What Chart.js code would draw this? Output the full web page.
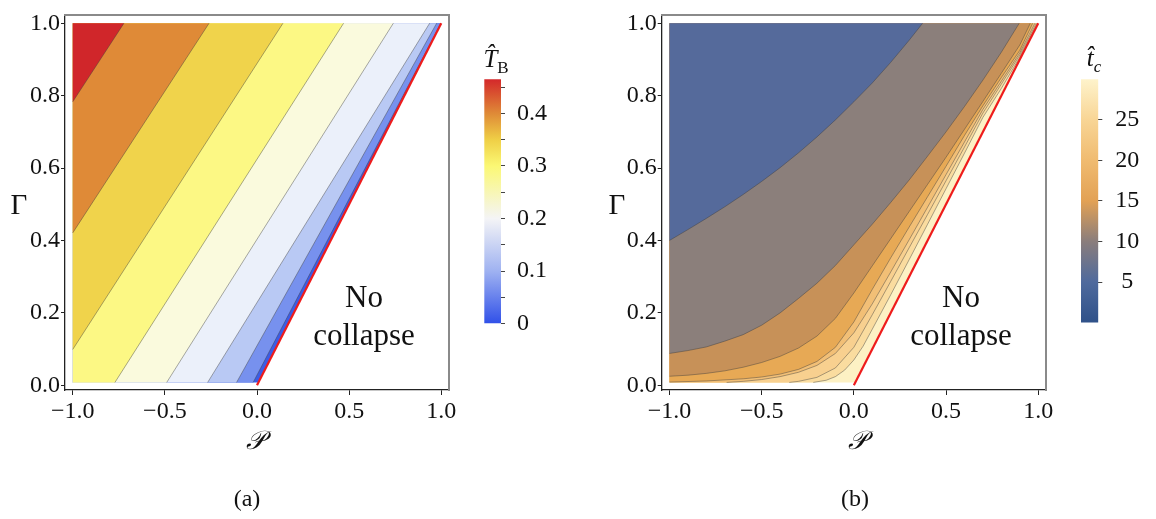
<!DOCTYPE html>
<html><head><meta charset="utf-8">
<script src="https://cdn.jsdelivr.net/npm/chart.js@4.4.1/dist/chart.umd.min.js"></script>
<style>
body{margin:0;width:1156px;height:519px;background:#fff;position:relative;overflow:hidden;}
canvas{position:absolute;}
.t{position:absolute;font-family:'Liberation Serif',serif;color:#111;white-space:nowrap;line-height:1;transform:translate(-50%,-50%);}
</style></head><body>
<canvas id="ca" width="460" height="460" style="left:0;top:0"></canvas>
<canvas id="cba" width="100" height="310" style="left:470px;top:40px"></canvas>
<canvas id="cb" width="460" height="460" style="left:600px;top:0"></canvas>
<canvas id="cbb" width="90" height="310" style="left:1066px;top:40px"></canvas>

<div class="t" style="left:19px;top:204px;font-size:29px">Γ</div>
<div class="t" style="left:617px;top:204px;font-size:29px">Γ</div>
<div class="t" style="left:255px;top:441px;font-size:26px;font-style:italic">𝒫</div>
<div class="t" style="left:857px;top:441px;font-size:26px;font-style:italic">𝒫</div>
<div class="t" style="left:247px;top:498px;font-size:24px">(a)</div>
<div class="t" style="left:855px;top:498px;font-size:24px">(b)</div>
<div class="t" style="left:364px;top:316px;font-size:31px;line-height:38px;text-align:center">No<br>collapse</div>
<div class="t" style="left:961px;top:316px;font-size:31px;line-height:38px;text-align:center">No<br>collapse</div>
<div class="t" style="left:496px;top:58px;font-size:25px"><i>T̂</i><span style="font-size:17px;position:relative;top:6px">B</span></div>
<div class="t" style="left:1094px;top:57px;font-size:25px"><i>t̂</i><span style="font-size:17px;position:relative;top:6px;font-style:italic">c</span></div>

<script>
// ---------------- data ----------------
const xTickValues = [-1, -0.5, 0, 0.5, 1];
const yTickValues = [0, 0.2, 0.4, 0.6, 0.8, 1];
const gammaMin = 0.008;              // lower edge of the computed region
const collapseLine = [[0, 0], [1, 1]];   // Γ = 𝒫 boundary

// (a) T_B contour lines (levels 0.05 ... 0.40), each: start [𝒫,Γ] -> end [𝒫,Γ]
const levelsA = [0.05, 0.10, 0.15, 0.20, 0.25, 0.30, 0.35, 0.40];
const lineA005 = [[-0.021, 0.008], [0.998, 1]];
const lineA010 = [[-0.111, 0.008], [0.975, 1]];
const lineA015 = [[-0.268, 0.008], [0.937, 1]];
const lineA020 = [[-0.490, 0.008], [0.740, 1]];
const lineA025 = [[-0.771, 0.008], [0.470, 1]];
const lineA030 = [[-1.000, 0.099], [0.141, 1]];
const lineA035 = [[-1.000, 0.421], [-0.260, 1]];
const lineA040 = [[-1.000, 0.783], [-0.722, 1]];
const bandColorsA = ['#3b5ce6', '#7791ee', '#b9c9f4', '#ebf0fa', '#fafadd', '#fcf884', '#f0d34b', '#df8a37', '#d0262a'];

// (a) colour bar
const cbarAMax = 0.465;
const cbarATicks = [0, 0.05, 0.1, 0.15, 0.2, 0.25, 0.3, 0.35, 0.4, 0.45];
const cbarAStops = [0, 0.1, 0.2, 0.3, 0.35, 0.4, 0.465];
const cbarAColors = ['#3050e8', '#9fb2f1', '#f4f4f6', '#fbf874', '#efcf46', '#df8a37', '#d4282a'];

// (b) t_c contour curves (far from collapse line -> near it), points [𝒫,Γ]
const curveB1 = [[-1, 0.400], [-0.9, 0.430], [-0.8, 0.461], [-0.7, 0.493], [-0.6, 0.527], [-0.5, 0.563], [-0.4, 0.601], [-0.3, 0.642], [-0.2, 0.686], [-0.1, 0.733], [0, 0.783], [0.1, 0.835], [0.2, 0.892], [0.3, 0.953], [0.373, 1.0]];
const curveB2 = [[-1, 0.088], [-0.9, 0.096], [-0.8, 0.106], [-0.7, 0.122], [-0.6, 0.140], [-0.5, 0.166], [-0.4, 0.200], [-0.3, 0.240], [-0.2, 0.282], [-0.1, 0.331], [0, 0.388], [0.1, 0.445], [0.2, 0.505], [0.3, 0.567], [0.4, 0.633], [0.5, 0.700], [0.6, 0.770], [0.7, 0.843], [0.8, 0.920], [0.897, 1.0]];
const curveB3 = [[-1, 0.025], [-0.9, 0.028], [-0.8, 0.033], [-0.7, 0.040], [-0.6, 0.050], [-0.5, 0.063], [-0.4, 0.080], [-0.3, 0.103], [-0.2, 0.136], [-0.1, 0.185], [0, 0.255], [0.1, 0.330], [0.2, 0.405], [0.3, 0.480], [0.4, 0.555], [0.5, 0.630], [0.6, 0.707], [0.7, 0.784], [0.8, 0.862], [0.9, 0.940], [0.957, 1.0]];
const curveB4 = [[-1, 0.009], [-0.8, 0.012], [-0.6, 0.018], [-0.5, 0.023], [-0.4, 0.031], [-0.3, 0.044], [-0.2, 0.066], [-0.1, 0.105], [0, 0.175], [0.1, 0.265], [0.2, 0.352], [0.3, 0.437], [0.4, 0.521], [0.5, 0.605], [0.6, 0.690], [0.7, 0.772], [0.8, 0.850], [0.9, 0.925], [0.97, 1.0]];
const curveB5 = [[-0.69, 0.008], [-0.6, 0.011], [-0.5, 0.016], [-0.4, 0.024], [-0.3, 0.036], [-0.2, 0.055], [-0.1, 0.088], [0, 0.145], [0.1, 0.225], [0.2, 0.313], [0.3, 0.402], [0.4, 0.492], [0.5, 0.582], [0.6, 0.672], [0.7, 0.762], [0.8, 0.840], [0.9, 0.918], [0.982, 1.0]];
const curveB6 = [[-0.35, 0.008], [-0.3, 0.011], [-0.2, 0.022], [-0.1, 0.048], [0, 0.105], [0.1, 0.195], [0.2, 0.287], [0.3, 0.380], [0.4, 0.472], [0.5, 0.565], [0.6, 0.658], [0.7, 0.752], [0.8, 0.832], [0.9, 0.912], [0.99, 1.0]];
const curveB7 = [[-0.22, 0.008], [-0.15, 0.014], [-0.1, 0.024], [-0.05, 0.042], [0, 0.070], [0.05, 0.108], [0.1, 0.155], [0.2, 0.250], [0.3, 0.347], [0.4, 0.445], [0.5, 0.543], [0.6, 0.641], [0.7, 0.740], [0.8, 0.820], [0.9, 0.906], [0.997, 1.0]];
const bandColorsB = ['#556a9b', '#8b7f7b', '#c79158', '#e7a955', '#f2bf76', '#f8d08f', '#fadc9f', '#fdf1c4'];

// (b) colour bar
const cbarBMax = 30;
const cbarBTicks = [5, 10, 15, 20, 25];
const cbarBStops = [0, 5, 10, 15, 20, 25, 30];
const cbarBColors = ['#2f5189', '#4f6a9d', '#8a7d7c', '#e2a155', '#f0bb70', '#f8d595', '#fef3cb'];

// ---------------- helpers ----------------
const FONT = "'Liberation Serif', serif";
const contourColor = 'rgba(60,60,60,0.55)';
const fmt = v => (v < 0 ? '\u2212' : '') + Math.abs(v).toFixed(1);

function clipLeftOf(poly, a, b) {
  const side = p => (b[0] - a[0]) * (p[1] - a[1]) - (b[1] - a[1]) * (p[0] - a[0]);
  const out = [];
  for (let i = 0; i < poly.length; i++) {
    const p = poly[i], q = poly[(i + 1) % poly.length];
    const sp = side(p), sq = side(q);
    if (sp >= 0) out.push(p);
    if ((sp >= 0) !== (sq >= 0)) {
      const t = sp / (sp - sq);
      out.push([p[0] + t * (q[0] - p[0]), p[1] + t * (q[1] - p[1])]);
    }
  }
  return out;
}
const toXY = pts => pts.map(p => ({x: p[0], y: p[1]}));
function polyDataset(pts, color, order) {
  const d = toXY(pts); d.push(d[0]);
  return {data: d, backgroundColor: color, borderWidth: 0, borderColor: color, fill: 'shape', pointRadius: 0, tension: 0, order};
}
function lineDataset(pts, color, width, order) {
  return {data: toXY(pts), borderColor: color, borderWidth: width, fill: false, pointRadius: 0, tension: 0, order};
}

function plotScales(yWidth) {
  return {
    x: {type: 'linear', position: 'bottom', min: -1.042, max: 1.042,
      afterBuildTicks: ax => { ax.ticks = xTickValues.map(v => ({value: v})); },
      afterFit: ax => { ax.height = 70; },
      grid: {display: true, drawOnChartArea: false, drawTicks: true, tickLength: 5, color: '#222'},
      border: {display: true, color: '#222', width: 1.3},
      ticks: {font: {family: FONT, size: 24}, color: '#111', padding: 2, maxRotation: 0, autoSkip: false, callback: v => fmt(v)}},
    y: {type: 'linear', position: 'left', min: -0.0129, max: 1.0216,
      afterBuildTicks: ax => { ax.ticks = yTickValues.map(v => ({value: v})); },
      afterFit: ax => { ax.width = yWidth; },
      grid: {display: true, drawOnChartArea: false, drawTicks: true, tickLength: 4, color: '#222'},
      border: {display: true, color: '#222', width: 1.3},
      ticks: {font: {family: FONT, size: 24}, color: '#111', padding: 1, autoSkip: false, callback: v => fmt(v)}},
    xTop: {type: 'linear', position: 'top', min: -1.042, max: 1.042,
      afterFit: ax => { ax.height = 0; }, grid: {display: false}, ticks: {display: false},
      border: {display: true, color: '#8a8a8a', width: 2}},
    yRight: {type: 'linear', position: 'right', min: -0.0129, max: 1.0216,
      afterFit: ax => { ax.width = 0; }, grid: {display: false}, ticks: {display: false},
      border: {display: true, color: '#8a8a8a', width: 2}}
  };
}
const baseOpts = {responsive: false, animation: false, events: [],
  plugins: {legend: {display: false}, tooltip: {enabled: false}}};

// ---------------- plot (a) ----------------
const domainA = [[-1, gammaMin], [gammaMin, gammaMin], [1, 1], [-1, 1]];
const linesA = [lineA005, lineA010, lineA015, lineA020, lineA025, lineA030, lineA035, lineA040];
const dsA = [];
dsA.push(polyDataset(domainA, bandColorsA[0], 100));
linesA.forEach((ln, i) => {
  const p = clipLeftOf(domainA, ln[0], ln[1]);
  dsA.push(polyDataset(p, bandColorsA[i + 1], 99 - i));
});
linesA.forEach(ln => dsA.push(lineDataset(ln, contourColor, 0.8, 10)));
dsA.push(lineDataset(collapseLine, '#ee1c1c', 2.2, 1));

new Chart(document.getElementById('ca'), {
  type: 'line', data: {datasets: dsA},
  options: Object.assign({}, baseOpts, {layout: {padding: {top: 6, right: 11, left: 0, bottom: 0}}, scales: plotScales(65)})
});

// ---------------- plot (b) ----------------
const domainB = [[-1, gammaMin], [gammaMin, gammaMin], [1, 1], [-1, 1]];
const curvesB = [curveB7, curveB6, curveB5, curveB4, curveB3, curveB2, curveB1];
const dsB = [];
dsB.push(polyDataset(domainB, bandColorsB[7], 100));
curvesB.forEach((c, i) => {
  const pts = c.slice();
  pts.push([-1, 1]);
  if (c[0][0] > -1) pts.push([-1, gammaMin]);
  dsB.push(polyDataset(pts, bandColorsB[6 - i], 99 - i));
});
curvesB.forEach(c => dsB.push(lineDataset(c, contourColor, 0.8, 10)));
dsB.push(lineDataset(collapseLine, '#ee1c1c', 2.2, 1));

new Chart(document.getElementById('cb'), {
  type: 'line', data: {datasets: dsB},
  options: Object.assign({}, baseOpts, {layout: {padding: {top: 6, right: 14, left: 0, bottom: 0}}, scales: plotScales(61.7)})
});

// ---------------- colour bars ----------------
function gradientFill(stops, colors) {
  return c => {
    const chart = c.chart, area = chart.chartArea, ys = chart.scales.y;
    if (!area) return colors[0];
    const g = chart.ctx.createLinearGradient(0, area.bottom, 0, area.top);
    const span = area.bottom - area.top;
    stops.forEach((s, i) => {
      const f = (area.bottom - ys.getPixelForValue(s)) / span;
      g.addColorStop(Math.min(1, Math.max(0, f)), colors[i]);
    });
    return g;
  };
}
function colourBar(id, max, ticks, stops, colors, pad, axisWidth, labelFn, crossAlign, labelPad) {
  new Chart(document.getElementById(id), {
    type: 'bar',
    data: {labels: [''], datasets: [{data: [[0, max]], backgroundColor: gradientFill(stops, colors), borderWidth: 0, barPercentage: 1, categoryPercentage: 1}]},
    options: Object.assign({}, baseOpts, {
      layout: {padding: pad},
      scales: {
        x: {display: false},
        y: {position: 'right', min: 0, max: max,
          afterBuildTicks: ax => { ax.ticks = ticks.map(v => ({value: v})); },
          afterFit: ax => { ax.width = axisWidth; },
          grid: {display: true, drawOnChartArea: false, tickLength: 4, color: '#444'},
          border: {display: false},
          ticks: {font: {family: FONT, size: 24}, color: '#111', padding: labelPad, crossAlign: crossAlign, autoSkip: false, callback: labelFn}}
      }
    })
  });
}
colourBar('cba', cbarAMax, cbarATicks, cbarAStops, cbarAColors, {left: 14.3, top: 39.3, bottom: 20.7, right: 0}, 69,
  v => (Math.round(v * 100) % 10 === 0 ? (v === 0 ? '0' : v.toFixed(1)) : ''), 'near', 12);
colourBar('cbb', cbarBMax, cbarBTicks, cbarBStops, cbarBColors, {left: 15, top: 39.3, bottom: 21.7, right: 0}, 57.7,
  v => String(v), 'center', 13);
</script>
</body></html>
